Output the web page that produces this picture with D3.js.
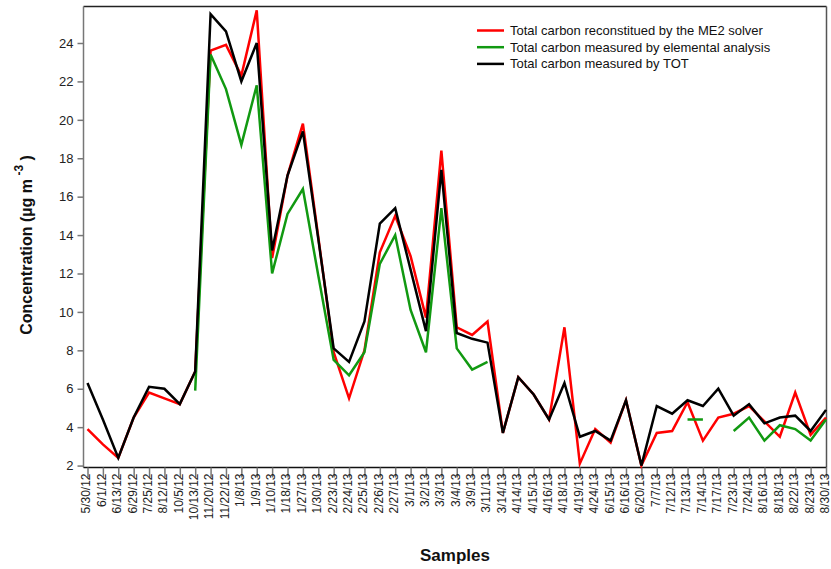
<!DOCTYPE html>
<html><head><meta charset="utf-8">
<script src="https://cdn.jsdelivr.net/npm/d3@7"></script>
<style>body{margin:0;background:#fff}svg{font-family:Arial,"Liberation Sans",sans-serif}</style>
</head><body>
<svg id="c" width="831" height="569"></svg>
<script>
const categories = ["5/30/12","6/1/12","6/13/12","6/29/12","7/25/12","8/12/12","10/5/12","10/13/12","11/20/12","11/22/12","1/8/13","1/9/13","1/10/13","1/18/13","1/27/13","1/30/13","2/23/13","2/24/13","2/25/13","2/26/13","2/27/13","3/1/13","3/2/13","3/3/13","3/4/13","3/9/13","3/11/13","3/14/13","4/14/13","4/15/13","4/16/13","4/18/13","4/19/13","4/24/13","6/15/13","6/16/13","6/20/13","7/7/13","7/12/13","7/13/13","7/14/13","7/17/13","7/23/13","7/24/13","8/16/13","8/18/13","8/22/13","8/23/13","8/30/13"];
const me2 = [3.9,3.1,2.4,4.5,5.8,5.5,5.2,6.9,23.6,23.9,22.3,25.7,12.8,17.1,19.8,13.9,7.9,5.5,8.0,13.1,15.0,12.9,9.7,18.4,9.2,8.8,9.5,3.7,6.6,5.7,4.4,9.2,2.1,3.9,3.2,5.4,2.0,3.7,3.8,5.3,3.3,4.5,4.7,5.1,4.3,3.5,5.8,3.6,4.5];
const ea = [null,null,null,null,null,null,null,5.9,23.4,21.6,18.7,21.8,12.0,15.1,16.4,11.9,7.5,6.7,7.9,12.5,14.0,10.1,7.9,15.4,8.1,7.0,7.4,null,null,null,null,null,null,null,null,null,null,null,null,4.4,4.4,null,3.8,4.5,3.3,4.1,3.9,3.3,4.4];
const tot = [6.3,4.4,2.4,4.5,6.1,6.0,5.2,6.9,25.5,24.6,22.0,24.0,13.2,17.1,19.4,13.8,8.1,7.4,9.5,14.6,15.4,12.2,9.0,17.4,8.9,8.6,8.4,3.7,6.6,5.7,4.4,6.3,3.5,3.8,3.3,5.4,2.0,5.1,4.7,5.4,5.1,6.0,4.6,5.2,4.2,4.5,4.6,3.8,4.9];
const yTicks = [2,4,6,8,10,12,14,16,18,20,22,24];
const seriesNames = ["Total carbon reconstitued by the ME2 solver","Total carbon measured by elemental analysis","Total carbon measured by TOT"];
const seriesColors = ["#ff0000","#119911","#000000"];

const svg = d3.select("#c");
const L = 83.5, R = 826.5, T = 6.5, B = 467.5;
const x = d3.scalePoint().domain(categories).range([87.5, 826]);
const y = d3.scaleLinear().domain([1.9, 25.9]).range([B, T]);

svg.append("line").attr("x1",L).attr("x2",R).attr("y1",T).attr("y2",T).attr("stroke","#222").attr("stroke-width",1.5);
svg.append("line").attr("x1",R).attr("x2",R).attr("y1",T).attr("y2",B).attr("stroke","#555").attr("stroke-width",1.5);

const ya = svg.append("g").attr("transform",`translate(${L},0)`)
  .call(d3.axisLeft(y).tickValues(yTicks).tickSize(6).tickPadding(4).tickFormat(d3.format("d")));
ya.select(".domain").attr("stroke","#777").attr("stroke-width",1.5).attr("d",`M0,${T}V${B}`);
ya.selectAll(".tick line").attr("stroke","#777").attr("stroke-width",1.5);
ya.selectAll(".tick text").attr("font-size",13).attr("fill","#222").attr("font-family","Arial, 'Liberation Sans', sans-serif");

const xa = svg.append("g").attr("transform",`translate(0,${B})`)
  .call(d3.axisBottom(x).tickSize(10).tickPadding(4));
xa.select(".domain").attr("stroke","#111").attr("stroke-width",1.5).attr("d",`M${L},0H${R}`);
xa.selectAll(".tick line").attr("stroke","#777").attr("stroke-width",1.5);
xa.selectAll(".tick text").attr("font-size",12).attr("fill","#222")
  .attr("font-family","Arial, 'Liberation Sans', sans-serif")
  .attr("transform","rotate(-90)").attr("text-anchor","end")
  .attr("x",-6).attr("y",0).attr("dy","0.2em");

const line = d3.line().defined(d=>d!=null).x((d,i)=>x(categories[i])).y(d=>y(d));
[me2, ea, tot].forEach((s,k)=>{
  svg.append("path").datum(s).attr("d",line).attr("fill","none")
    .attr("stroke",seriesColors[k]).attr("stroke-width",2.5).attr("stroke-linejoin","miter");
});

const lg = svg.append("g");
seriesNames.forEach((n,k)=>{
  const yy = 30.5 + k*16.7;
  lg.append("line").attr("x1",477).attr("x2",504).attr("y1",yy).attr("y2",yy).attr("stroke",seriesColors[k]).attr("stroke-width",2.5);
  lg.append("text").attr("x",510).attr("y",yy).attr("dy","0.35em").attr("font-size",13).attr("fill","#111").text(n);
});

svg.append("text").attr("x",455).attr("y",561).attr("text-anchor","middle")
  .attr("font-size",17).attr("font-weight","bold").attr("fill","#111").text("Samples");
const yt = svg.append("text").attr("transform","translate(32,245) rotate(-90)").attr("text-anchor","middle")
  .attr("font-size",16).attr("font-weight","bold").attr("fill","#111");
yt.append("tspan").text("Concentration (µg m");
yt.append("tspan").attr("dy",-9).attr("font-size",12).text(" -3");
yt.append("tspan").attr("dy",9).text(" )");
</script>
</body></html>
